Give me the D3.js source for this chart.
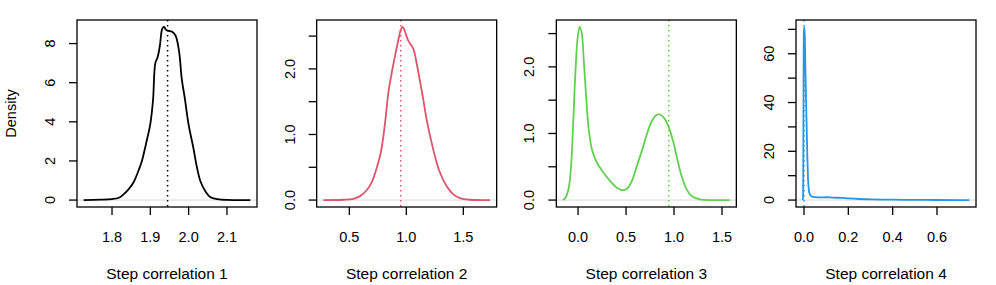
<!DOCTYPE html>
<html>
<head>
<meta charset="utf-8">
<script src="https://cdn.jsdelivr.net/npm/d3@7"></script>
<style>
  body { margin: 0; background: #fff; }
  svg { display: block; font-family: "Liberation Sans", Arial, sans-serif; }
</style>
</head>
<body>
<div id="chart-container"></div>
<script>
// density estimates, one pair of arrays per panel
const xs1 = [1.726, 1.77, 1.80, 1.818, 1.83, 1.843, 1.856, 1.869, 1.878, 1.889, 1.90, 1.907, 1.913, 1.919, 1.925, 1.931, 1.936, 1.941, 1.948, 1.957, 1.966, 1.975, 1.982, 1.990, 2.0, 2.012, 2.022, 2.031, 2.044, 2.057, 2.075, 2.1, 2.161];
const ys1 = [0, 0.02, 0.05, 0.12, 0.29, 0.55, 0.9, 1.5, 2.0, 2.9, 3.9, 5.1, 7.0, 7.3, 7.9, 8.75, 8.85, 8.7, 8.65, 8.6, 8.4, 7.6, 6.2, 5.2, 3.84, 2.7, 1.64, 0.95, 0.44, 0.14, 0.05, 0.01, 0];

const xs2 = [0.272, 0.447, 0.535, 0.594, 0.652, 0.696, 0.74, 0.778, 0.813, 0.842, 0.871, 0.9, 0.93, 0.95, 0.968, 0.988, 1.017, 1.061, 1.09, 1.12, 1.149, 1.178, 1.216, 1.251, 1.295, 1.354, 1.412, 1.47, 1.558, 1.734];
const ys2 = [0, 0.005, 0.02, 0.06, 0.15, 0.27, 0.49, 0.74, 1.17, 1.63, 1.93, 2.19, 2.44, 2.59, 2.64, 2.57, 2.43, 2.31, 2.09, 1.81, 1.53, 1.23, 0.92, 0.67, 0.42, 0.21, 0.086, 0.03, 0.005, 0];

const xs3 = [-0.157, -0.131, -0.097, -0.073, -0.052, -0.028, -0.003, 0.017, 0.038, 0.059, 0.086, 0.111, 0.145, 0.197, 0.266, 0.335, 0.405, 0.456, 0.508, 0.56, 0.612, 0.664, 0.716, 0.768, 0.813, 0.854, 0.896, 0.941, 0.986, 1.027, 1.079, 1.131, 1.183, 1.269, 1.407, 1.58];
const ys3 = [0, 0.035, 0.185, 0.51, 1.11, 1.91, 2.46, 2.6, 2.51, 2.11, 1.51, 1.06, 0.76, 0.56, 0.41, 0.285, 0.185, 0.15, 0.17, 0.285, 0.51, 0.735, 0.985, 1.185, 1.275, 1.285, 1.235, 1.11, 0.91, 0.66, 0.36, 0.16, 0.06, 0.01, 0, 0];

const xs4 = [-0.006, -0.004, -0.003, -0.002, -0.001, 0.0015, 0.004, 0.006, 0.009, 0.012, 0.015, 0.018, 0.022, 0.027, 0.035, 0.05, 0.08, 0.1, 0.13, 0.17, 0.2, 0.25, 0.3, 0.35, 0.4, 0.5, 0.6, 0.7, 0.746];
const ys4 = [0, 2, 20, 50, 68, 71, 66, 55, 42, 30, 18, 9, 4, 2.2, 1.4, 1.2, 1.1, 1.15, 1.0, 0.9, 0.7, 0.45, 0.32, 0.22, 0.15, 0.08, 0.04, 0.01, 0];

// true values marked with dotted verticals
const trueValues = [1.945, 0.951, 0.945, 0.0];

const titles = ['Step correlation 1', 'Step correlation 2', 'Step correlation 3', 'Step correlation 4'];
const colors = ['#000000', '#DF536B', '#61D04F', '#2297E6'];

const xTicks = [[1.8, 1.9, 2.0, 2.1], [0.5, 1.0, 1.5], [0.0, 0.5, 1.0, 1.5], [0.0, 0.2, 0.4, 0.6]];
const yTicks = [[0, 2, 4, 6, 8], [0, 0.5, 1, 1.5, 2, 2.5], [0, 0.5, 1, 1.5, 2, 2.5], [0, 10, 20, 30, 40, 50, 60, 70]];
const yLabels = [[0, 2, 4, 6, 8], [0, 1, 2], [0, 1, 2], [0, 20, 40, 60]];
const xFormats = ['.1f', '.1f', '.1f', '.1f'];
const yFormats = ['d', '.1f', '.1f', 'd'];

const svgCanvas = {width: 996, height: 285};
const panel = {left: 77, step: 239.67, width: 180, top: 20, height: 187};
const tickLen = 8;

const svg = d3.select('#chart-container')
        .append('svg')
        .attr('width', svgCanvas.width)
        .attr('height', svgCanvas.height);

const series = [[xs1, ys1], [xs2, ys2], [xs3, ys3], [xs4, ys4]];

series.forEach(([xs, ys], i) => {
    const pts = xs.map((x, k) => [x, ys[k]]);
    const [x0, x1] = d3.extent(xs);
    const yMax = d3.max(ys);

    // R-style 4% padding on both axes
    const xScale = d3.scaleLinear()
                .domain([x0 - 0.04 * (x1 - x0), x1 + 0.04 * (x1 - x0)])
                .range([0, panel.width]);
    const yScale = d3.scaleLinear()
                .domain([-0.04 * yMax, 1.04 * yMax])
                .range([panel.height, 0]);

    const g = svg.append('g')
            .attr('transform', `translate(${panel.left + i * panel.step}, ${panel.top})`);

    // zero line
    g.append('line')
        .attr('x1', 0).attr('x2', panel.width)
        .attr('y1', yScale(0)).attr('y2', yScale(0))
        .attr('stroke', '#bebebe').attr('stroke-width', 0.6);

    // dotted true value line
    g.append('line')
        .attr('x1', xScale(trueValues[i])).attr('x2', xScale(trueValues[i]))
        .attr('y1', 0).attr('y2', panel.height)
        .attr('stroke', colors[i]).attr('stroke-width', 1.5)
        .attr('stroke-dasharray', '1.5,3.5');

    const line = d3.line()
            .x(d => xScale(d[0]))
            .y(d => yScale(d[1]))
            .curve(i === 3 ? d3.curveMonotoneX : d3.curveCatmullRom.alpha(0.5));

    g.append('path')
        .datum(pts)
        .attr('d', line)
        .attr('fill', 'none')
        .attr('stroke', colors[i])
        .attr('stroke-width', 1.8)
        .attr('stroke-linejoin', 'round');

    // box
    g.append('rect')
        .attr('width', panel.width).attr('height', panel.height)
        .attr('fill', 'none').attr('stroke', '#000').attr('stroke-width', 1.3);

    // x axis
    const xAxis = g.append('g').attr('transform', `translate(0, ${panel.height})`);
    xAxis.selectAll('line.tick')
        .data(xTicks[i]).enter().append('line')
        .attr('x1', d => xScale(d)).attr('x2', d => xScale(d))
        .attr('y1', 0).attr('y2', tickLen)
        .attr('stroke', '#000').attr('stroke-width', 1.3);
    xAxis.selectAll('text')
        .data(xTicks[i]).enter().append('text')
        .attr('x', d => xScale(d)).attr('y', 35)
        .attr('text-anchor', 'middle')
        .attr('font-size', 14.5)
        .text(d => d3.format(xFormats[i])(d));
    xAxis.append('text')
        .attr('x', panel.width / 2).attr('y', 72)
        .attr('text-anchor', 'middle')
        .attr('font-size', 15.5)
        .text(titles[i]);

    // y axis
    const yAxis = g.append('g');
    yAxis.selectAll('line.tick')
        .data(yTicks[i]).enter().append('line')
        .attr('x1', -tickLen).attr('x2', 0)
        .attr('y1', d => yScale(d)).attr('y2', d => yScale(d))
        .attr('stroke', '#000').attr('stroke-width', 1.3);
    yAxis.selectAll('text')
        .data(yLabels[i]).enter().append('text')
        .attr('transform', d => `translate(-22, ${yScale(d)}) rotate(-90)`)
        .attr('text-anchor', 'middle')
        .attr('font-size', 14.5)
        .text(d => d3.format(yFormats[i])(d));
    if (i === 0) {
        yAxis.append('text')
            .attr('transform', `translate(-61, ${panel.height / 2}) rotate(-90)`)
            .attr('text-anchor', 'middle')
            .attr('font-size', 14.5)
            .text('Density');
    }
});
</script>
</body>
</html>
